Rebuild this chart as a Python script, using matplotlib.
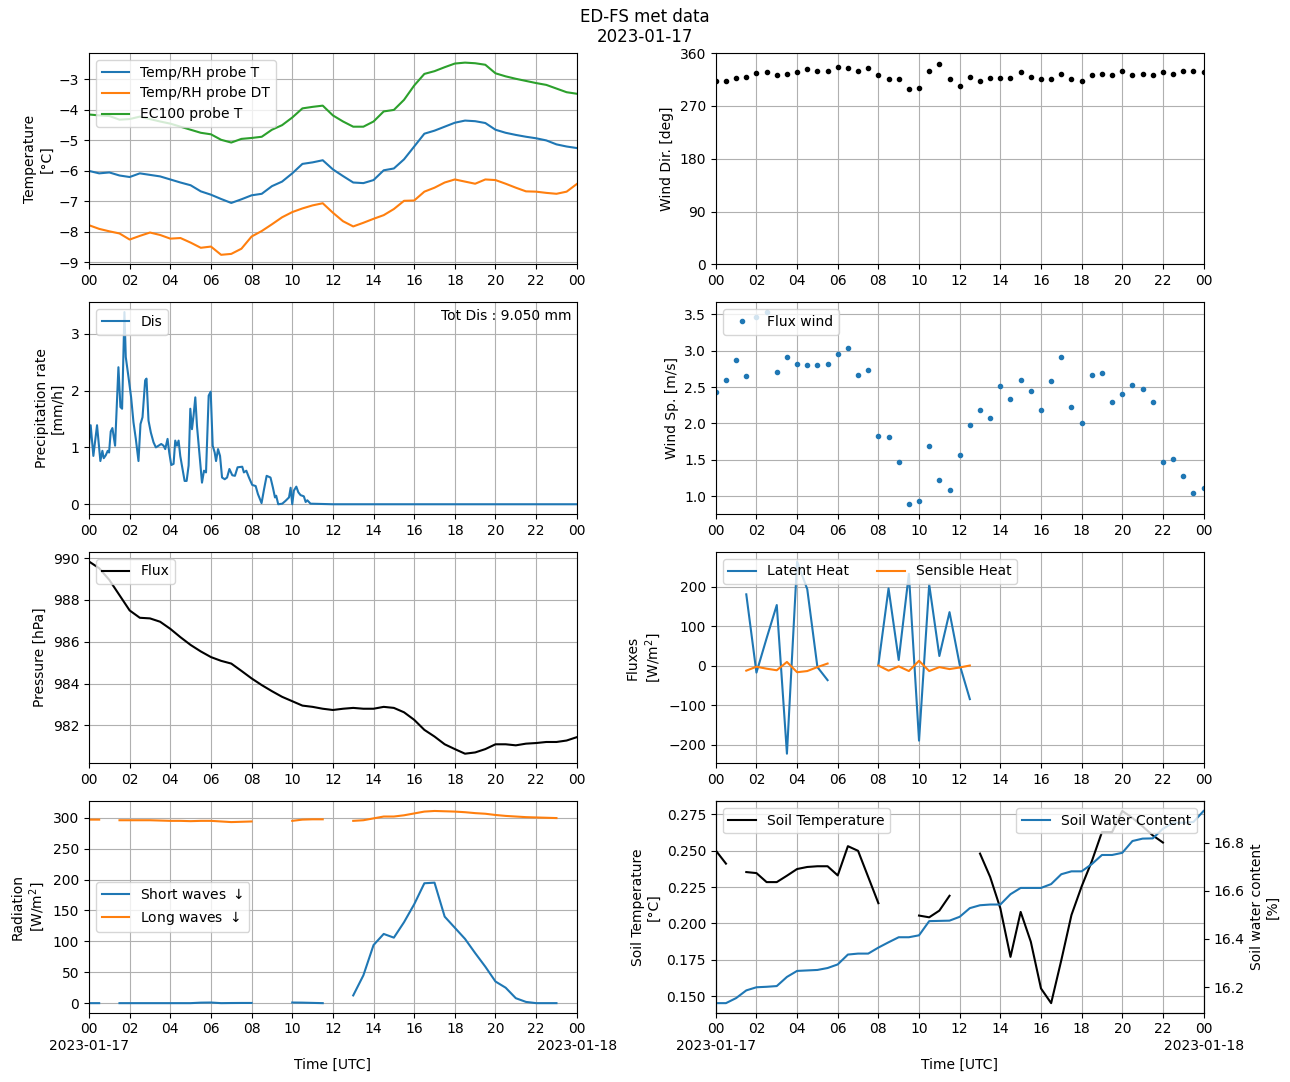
import numpy as np
import pandas as pd
import matplotlib
matplotlib.use("Agg")
import matplotlib.pyplot as plt
import matplotlib.dates as mdates
from matplotlib.ticker import FuncFormatter

nan = np.nan
day = pd.Timestamp("2023-01-17")
t30 = pd.date_range(day, periods=49, freq="30min")

temp_T = [-6.0, -6.08, -6.05, -6.15, -6.2, -6.08, -6.13, -6.18, -6.28, -6.38, -6.47, -6.67, -6.78,
          -6.92, -7.05, -6.93, -6.8, -6.75, -6.5, -6.35, -6.08, -5.77, -5.72, -5.65, -5.95, -6.17,
          -6.38, -6.4, -6.3, -5.98, -5.92, -5.62, -5.2, -4.78, -4.68, -4.55, -4.42, -4.35, -4.37,
          -4.43, -4.65, -4.75, -4.82, -4.88, -4.93, -5.0, -5.13, -5.2, -5.25]
temp_DT = [-7.78, -7.9, -7.98, -8.05, -8.25, -8.13, -8.02, -8.1, -8.22, -8.2, -8.35, -8.52, -8.48,
           -8.75, -8.72, -8.55, -8.15, -7.97, -7.75, -7.52, -7.35, -7.23, -7.13, -7.06, -7.37, -7.65,
           -7.82, -7.7, -7.57, -7.45, -7.25, -6.98, -6.97, -6.68, -6.55, -6.38, -6.28, -6.35, -6.42,
           -6.28, -6.3, -6.42, -6.55, -6.67, -6.68, -6.72, -6.75, -6.68, -6.43]
temp_EC = [-4.15, -4.18, -4.2, -4.32, -4.3, -4.22, -4.3, -4.38, -4.45, -4.55, -4.65, -4.75, -4.8,
           -4.98, -5.07, -4.95, -4.92, -4.88, -4.65, -4.5, -4.25, -3.95, -3.9, -3.86, -4.18, -4.38,
           -4.55, -4.55, -4.38, -4.05, -4.0, -3.67, -3.2, -2.82, -2.73, -2.6, -2.48, -2.45, -2.47,
           -2.52, -2.8, -2.9, -2.98, -3.05, -3.12, -3.18, -3.3, -3.42, -3.47]

wind_dir = [313, 313, 318, 319.5, 325.7, 327, 322, 323.5, 327, 332.6, 328.6, 330, 335.4, 334.3,
            328.6, 334.3, 322, 316.6, 316.6, 299.5, 301.2, 328.6, 341, 315, 303, 320, 313, 318,
            318, 318, 327, 320, 316.6, 315, 323.5, 316.6, 313, 322, 323.5, 322, 328.6, 322, 325,
            322, 327, 325, 328.6, 330, 327]
wind_sp = [2.43, 2.59, 2.87, 2.65, 3.46, 3.53, 2.71, 2.91, 2.82, 2.80, 2.80, 2.82, 2.95, 3.03,
           2.66, 2.74, 1.83, 1.82, 1.47, 0.89, 0.94, 1.69, 1.23, 1.09, 1.56, 1.98, 2.19, 2.08,
           2.51, 2.33, 2.59, 2.45, 2.18, 2.58, 2.91, 2.22, 2.01, 2.66, 2.69, 2.30, 2.41, 2.53,
           2.48, 2.29, 1.47, 1.51, 1.28, 1.05, 1.11]

precip_hours = [0.0, 0.082, 0.214, 0.395, 0.559, 0.658, 0.724, 0.822, 0.921, 0.987, 1.069, 1.151,
                1.283, 1.447, 1.546, 1.628, 1.743, 1.809, 1.941, 2.072, 2.188, 2.303, 2.434, 2.533,
                2.632, 2.763, 2.829, 2.928, 3.043, 3.174, 3.289, 3.421, 3.553, 3.668, 3.750, 3.865,
                3.947, 4.046, 4.161, 4.243, 4.326, 4.408, 4.490, 4.572, 4.704, 4.803, 4.901, 4.984,
                5.066, 5.148, 5.230, 5.312, 5.428, 5.559, 5.658, 5.757, 5.888, 5.987, 6.086, 6.184,
                6.250, 6.349, 6.447, 6.546, 6.678, 6.793, 6.908, 7.05, 7.18, 7.31, 7.54, 7.62,
                7.74, 7.87, 8.03, 8.20, 8.31, 8.49, 8.61, 8.74, 8.93, 9.05, 9.15, 9.21, 9.31, 9.51,
                9.67, 9.84, 9.92, 10.0, 10.08, 10.20, 10.30, 10.41, 10.57, 10.66, 10.74, 10.90,
                12.0, 14.0, 16.0, 18.0, 20.0, 22.0, 24.0]
precip_rate = [1.05, 1.39, 0.85, 1.39, 0.76, 0.94, 0.81, 0.86, 0.94, 0.91, 1.28, 1.34,
               1.03, 2.41, 1.71, 1.68, 3.38, 2.59, 2.24, 1.88, 1.44, 1.15, 0.76, 1.41,
               1.53, 2.18, 2.21, 1.47, 1.26, 1.09, 1.0, 1.03, 1.06, 1.03, 0.97, 1.15,
               0.91, 0.69, 0.71, 1.12, 1.03, 1.12, 0.85, 0.68, 0.41, 0.41, 0.68, 1.68,
               1.32, 1.57, 1.88, 1.38, 0.91, 0.38, 0.59, 0.56, 1.91, 1.98, 1.03, 0.91,
               0.76, 0.97, 0.85, 0.47, 0.44, 0.47, 0.62, 0.51, 0.5, 0.65, 0.66, 0.56,
               0.59, 0.47, 0.34, 0.32, 0.18, 0.02, 0.26, 0.5, 0.47, 0.29, 0.12, 0.15, 0.0, 0.01,
               0.06, 0.12, 0.29, 0.0, 0.24, 0.31, 0.21, 0.16, 0.14, 0.04, 0.07, 0.01,
               0.0, 0.0, 0.0, 0.0, 0.0, 0.0, 0.0]
precip_total = 9.050

pressure = [989.84, 989.52, 988.96, 988.23, 987.5, 987.15, 987.12, 986.96, 986.62, 986.22,
            985.85, 985.54, 985.27, 985.09, 984.96, 984.61, 984.25, 983.93, 983.64, 983.37,
            983.16, 982.95, 982.89, 982.8, 982.74, 982.8, 982.84, 982.8, 982.8, 982.89, 982.84,
            982.63, 982.27, 981.79, 981.47, 981.1, 980.87, 980.65, 980.71, 980.87, 981.1, 981.1,
            981.05, 981.13, 981.16, 981.21, 981.21, 981.28, 981.44]

latent = [nan, nan, nan, 181, -17, 70, 154, -222, 264, 194, -3, -36, nan, nan, nan, nan,
          3, 196, 15, 233, -189, 206, 25, 136, 3, -84, nan, nan, nan, nan, nan, nan, nan, nan,
          nan, nan, nan, nan, nan, nan, nan, nan, nan, nan, nan, nan, nan, nan, nan]
sensible = [nan, nan, nan, -12, -2, -7, -11, 10, -16, -13, -3, 6, nan, nan, nan, nan,
            1, -12, -1, -13, 13, -13, -3, -8, -4, 1, nan, nan, nan, nan, nan, nan, nan, nan,
            nan, nan, nan, nan, nan, nan, nan, nan, nan, nan, nan, nan, nan, nan, nan]

sw_down = [0, 0, nan, 0, 0, 0, 0, 0, 0, 0, 0, 0.8, 1.0, 0, 0.2, 0.3, 0.3, nan, nan, nan,
           1.0, 0.8, 0.4, 0, nan, nan, 12.5, 45, 94, 112, 106, 131, 160, 194, 195, 140, 122,
           104, 81, 59, 35, 25, 8, 2, 0, 0, 0, nan, nan]
lw_down = [297, 297, nan, 296, 296, 296, 296, 295.5, 295, 295, 294.5, 295, 295, 294, 293, 293.5,
           294, nan, nan, nan, 295, 297, 297.5, 297.5, nan, nan, 295, 296, 299, 302, 302, 304,
           307, 310, 311, 310.5, 310, 309, 307.5, 306.5, 304.5, 303, 302, 301, 300.5, 300, 299.5,
           nan, nan]

soil_T = [0.2501, 0.2411, nan, 0.2353, 0.2346, 0.2284, 0.2284, 0.2328, 0.2374, 0.2388, 0.2393,
          0.2393, 0.2330, 0.2531, 0.2499, 0.2319, 0.2139, nan, nan, nan, 0.2054, 0.2042, 0.2088,
          0.2190, nan, nan, 0.2480, 0.2319, 0.2104, 0.1770, 0.2079, 0.1874, 0.1553, 0.1452,
          0.1747, 0.2058, 0.2254, 0.2427, 0.2628, 0.2628, 0.2773, 0.2725, 0.2667, 0.2605, 0.2556,
          nan, nan, nan, nan]
soil_wc = [16.133, 16.133, 16.154, 16.186, 16.199, 16.201, 16.204, 16.242, 16.267, 16.269, 16.271,
           16.279, 16.294, 16.335, 16.339, 16.339, 16.364, 16.386, 16.407, 16.407, 16.415, 16.474,
           16.475, 16.476, 16.492, 16.528, 16.540, 16.543, 16.543, 16.586, 16.612, 16.612, 16.612,
           16.628, 16.669, 16.681, 16.681, 16.711, 16.749, 16.749, 16.758, 16.807, 16.817, 16.818,
           16.858, 16.883, 16.883, 16.886, 16.932]

precip_t = day + pd.to_timedelta(precip_hours, unit="h")

fig, axes = plt.subplots(4, 2, figsize=(12.9, 10.82), dpi=100)
fig.subplots_adjust(left=0.069, right=0.933, top=0.951, bottom=0.064, wspace=0.285, hspace=0.18)
fig.suptitle("ED-FS met data\n2023-01-17", fontsize=12, y=0.993)

def fmt_bottom(x, pos):
    d = mdates.num2date(x)
    if d.hour == 0:
        return d.strftime("%H\n%Y-%m-%d")
    return d.strftime("%H")

for i, ax in enumerate(axes.flat):
    ax.set_xlim(day, day + pd.Timedelta(hours=24))
    ax.xaxis.set_major_locator(mdates.HourLocator(byhour=range(0, 24, 2)))
    if i >= 6:
        ax.xaxis.set_major_formatter(FuncFormatter(fmt_bottom))
        ax.set_xlabel("Time [UTC]")
    else:
        ax.xaxis.set_major_formatter(mdates.DateFormatter("%H"))
    ax.grid(True)

# Temperature
ax = axes[0, 0]
ax.plot(t30, temp_T, label="Temp/RH probe T")
ax.plot(t30, temp_DT, label="Temp/RH probe DT")
ax.plot(t30, temp_EC, label="EC100 probe T")
ax.set_ylabel("Temperature\n[°C]")
ax.legend(loc="upper left")

# Wind direction
ax = axes[0, 1]
ax.plot(t30, wind_dir, ls="", marker=".", color="k")
ax.set_ylim(0, 360)
ax.set_yticks([0, 90, 180, 270, 360])
ax.set_ylabel("Wind Dir. [deg]")

# Precipitation
ax = axes[1, 0]
ax.plot(precip_t, precip_rate, label="Dis")
ax.set_ylabel("Precipitation rate\n[mm/h]")
ax.legend(loc="upper left")
ax.text(0.99, 0.97, f"Tot Dis : {precip_total:.3f} mm", transform=ax.transAxes,
        ha="right", va="top")

# Wind speed
ax = axes[1, 1]
ax.plot(t30, wind_sp, ls="", marker=".", color="C0", label="Flux wind")
ax.set_ylabel("Wind Sp. [m/s]")
ax.legend(loc="upper left")

# Pressure
ax = axes[2, 0]
ax.plot(t30, pressure, color="k", label="Flux")
ax.set_ylabel("Pressure [hPa]")
ax.legend(loc="upper left")

# Fluxes
ax = axes[2, 1]
ax.plot(t30, latent, label="Latent Heat")
ax.plot(t30, sensible, label="Sensible Heat")
ax.set_ylabel("Fluxes\n[W/m$^2$]")
ax.legend(loc="upper left", ncol=2)

# Radiation
ax = axes[3, 0]
ax.plot(t30, sw_down, label="Short waves $\\downarrow$")
ax.plot(t30, lw_down, label="Long waves $\\downarrow$")
ax.set_ylabel("Radiation\n[W/m$^2$]")
ax.legend(loc="center left")

# Soil
ax = axes[3, 1]
ax.plot(t30, soil_T, color="k", label="Soil Temperature")
ax.set_ylabel("Soil Temperature\n[°C]")
ax.legend(loc="upper left")
ax2 = ax.twinx()
ax2.plot(t30, soil_wc, color="C0", label="Soil Water Content")
ax2.set_ylabel("Soil water content\n[%]")
ax2.legend(loc="upper right")
ax2.set_xlim(day, day + pd.Timedelta(hours=24))

fig.savefig("out.png", dpi=100)
